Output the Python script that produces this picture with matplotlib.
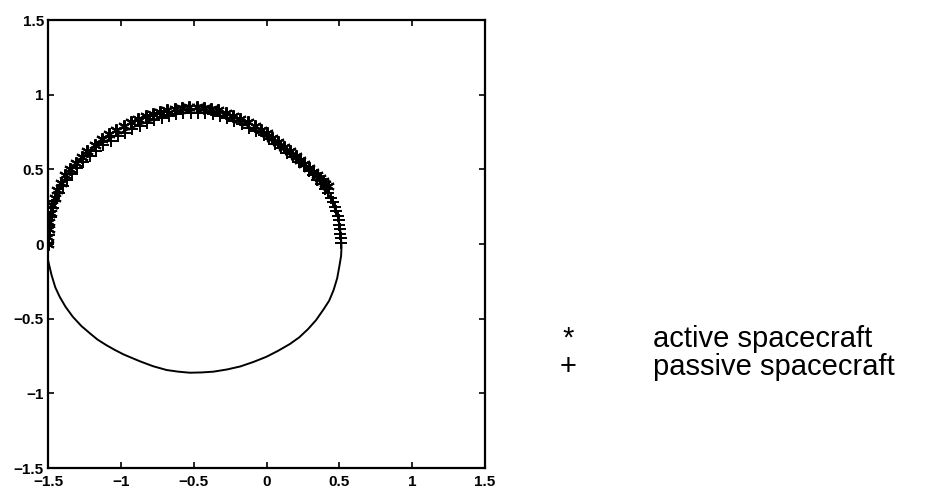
import matplotlib
matplotlib.use("Agg")
import matplotlib.pyplot as plt

plt.rcParams['font.family'] = ['Liberation Sans', 'DejaVu Sans']

# solid reference orbit (closed curve)
orbit_x = [-1.50, -1.495, -1.485, -1.47, -1.45, -1.42, -1.39, -1.35, -1.31, -1.265,
           -1.22, -1.165, -1.11, -1.055, -1.00, -0.935, -0.87, -0.80, -0.73, -0.665,
           -0.60, -0.54, -0.48, -0.415, -0.35, -0.285, -0.22, -0.15, -0.08, -0.015,
           0.05, 0.115, 0.18, 0.24, 0.30, 0.35, 0.39, 0.42, 0.45, 0.47,
           0.49, 0.50, 0.51, 0.515, 0.512, 0.50, 0.485, 0.46, 0.43, 0.39,
           0.34, 0.285, 0.225, 0.16, 0.08, 0.00, -0.09, -0.18, -0.27, -0.365,
           -0.445, -0.525, -0.605, -0.685, -0.78, -0.87, -0.98, -1.04, -1.10, -1.16,
           -1.21, -1.27, -1.33, -1.38, -1.42, -1.45, -1.475, -1.49, -1.50, -1.50]
orbit_y = [0.00, 0.08, 0.15, 0.225, 0.30, 0.37, 0.43, 0.485, 0.53, 0.572,
           0.61, 0.65, 0.685, 0.717, 0.745, 0.774, 0.80, 0.824, 0.845, 0.86,
           0.872, 0.878, 0.88, 0.877, 0.87, 0.853, 0.83, 0.80, 0.765, 0.725,
           0.68, 0.63, 0.58, 0.53, 0.48, 0.433, 0.385, 0.34, 0.29, 0.235,
           0.18, 0.125, 0.07, -0.02, -0.08, -0.15, -0.23, -0.31, -0.38, -0.44,
           -0.51, -0.57, -0.625, -0.67, -0.715, -0.755, -0.79, -0.82, -0.84, -0.855,
           -0.86, -0.862, -0.855, -0.844, -0.818, -0.785, -0.74, -0.71, -0.677, -0.64,
           -0.60, -0.55, -0.487, -0.42, -0.353, -0.29, -0.21, -0.15, -0.107, 0.00]

# active spacecraft (*)
active_x = [-1.50, -1.50, -1.495, -1.49, -1.48, -1.47, -1.455, -1.435, -1.41, -1.38,
            -1.35, -1.31, -1.27, -1.23, -1.18, -1.13, -1.08, -1.03, -0.98, -0.93,
            -0.88, -0.83, -0.78, -0.73, -0.68, -0.63, -0.58, -0.53, -0.48, -0.43,
            -0.38, -0.33, -0.28, -0.23, -0.18, -0.13, -0.08, -0.04, 0.00, 0.04,
            0.08, 0.12, 0.16, 0.20, 0.23, 0.26, 0.29, 0.32, 0.345, 0.37,
            0.39, 0.405, 0.42]
active_y = [0.00, 0.05, 0.10, 0.15, 0.21, 0.26, 0.31, 0.36, 0.41, 0.46,
            0.50, 0.54, 0.58, 0.62, 0.66, 0.70, 0.735, 0.765, 0.79, 0.815,
            0.835, 0.855, 0.87, 0.885, 0.895, 0.905, 0.912, 0.915, 0.915, 0.912,
            0.905, 0.895, 0.88, 0.86, 0.84, 0.815, 0.79, 0.765, 0.74, 0.71,
            0.68, 0.65, 0.62, 0.59, 0.56, 0.535, 0.51, 0.485, 0.46, 0.44,
            0.42, 0.405, 0.39]

# passive spacecraft (+)
passive_x = [-1.50, -1.495, -1.49, -1.48, -1.465, -1.45, -1.425, -1.40, -1.37, -1.335,
             -1.30, -1.26, -1.215, -1.17, -1.12, -1.07, -1.02, -0.97, -0.92, -0.87,
             -0.82, -0.77, -0.72, -0.67, -0.62, -0.57, -0.52, -0.47, -0.42, -0.37,
             -0.32, -0.27, -0.22, -0.17, -0.12, -0.07, -0.02, 0.02, 0.06, 0.10,
             0.14, 0.18, 0.22, 0.26, 0.29, 0.32, 0.35, 0.375, 0.40, 0.42,
             0.44, 0.455, 0.47, 0.48, 0.49, 0.495, 0.50, 0.505, 0.508, 0.51,
             0.512]
passive_y = [0.00, 0.06, 0.12, 0.18, 0.24, 0.29, 0.34, 0.39, 0.43, 0.47,
             0.51, 0.55, 0.59, 0.625, 0.66, 0.69, 0.72, 0.745, 0.77, 0.79,
             0.81, 0.83, 0.845, 0.86, 0.87, 0.877, 0.88, 0.88, 0.877, 0.87,
             0.86, 0.845, 0.825, 0.805, 0.78, 0.755, 0.73, 0.70, 0.67, 0.64,
             0.61, 0.58, 0.55, 0.52, 0.49, 0.46, 0.43, 0.40, 0.37, 0.34,
             0.31, 0.28, 0.25, 0.22, 0.19, 0.16, 0.13, 0.10, 0.07, 0.04,
             0.01]

ticks = [-1.5, -1, -0.5, 0, 0.5, 1, 1.5]
tick_labels = ['-1.5', '-1', '-0.5', '0', '0.5', '1', '1.5']

fig = plt.figure(figsize=(9.26, 5), dpi=100)
ax = fig.add_axes([48 / 926, 32 / 500, 437 / 926, 448 / 500])

ax.plot(orbit_x, orbit_y, color='black', linewidth=1.4)
ax.plot(active_x, active_y, linestyle='none', marker=(6, 2, 0), markersize=9,
        color='black', markeredgewidth=1.5)
ax.plot(passive_x, passive_y, linestyle='none', marker='+', markersize=8,
        color='black', markeredgewidth=1.4)

ax.set_xlim(-1.5, 1.5)
ax.set_ylim(-1.5, 1.5)
ax.set_xticks(ticks)
ax.set_xticklabels([t.replace('-', '\u2212') for t in tick_labels])
ax.set_yticks(ticks)
ax.set_yticklabels([t.replace('-', '\u2212') for t in tick_labels])
ax.tick_params(direction='in', top=True, right=True, length=4, width=1.2,
               labelsize=11, pad=3)
ax.tick_params(axis='x', pad=5)
for lab in ax.get_xticklabels() + ax.get_yticklabels():
    lab.set_fontweight('bold')
for s in ax.spines.values():
    s.set_linewidth(1.6)

fig.text(568 / 926, 1 - 347 / 500, '*', fontsize=21, ha='center', va='baseline')
fig.text(568 / 926, 1 - 375 / 500, '+', fontsize=21, ha='center', va='baseline')
fig.text(653 / 926, 1 - 347 / 500, 'active spacecraft', fontsize=21, va='baseline')
fig.text(653 / 926, 1 - 375 / 500, 'passive spacecraft', fontsize=21, va='baseline')

fig.savefig('out.png', dpi=100)
